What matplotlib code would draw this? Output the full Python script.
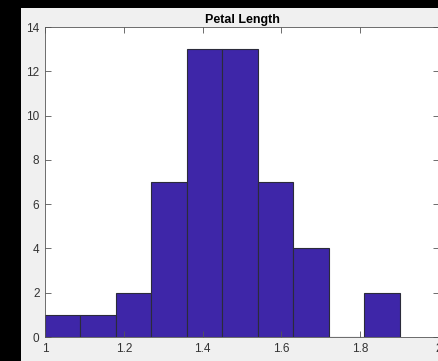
import numpy as np
import matplotlib.pyplot as plt
from matplotlib.patches import Rectangle

# histogram of petal length (setosa), 10 bins of 0.09
bin_edges = [1.0, 1.09, 1.18, 1.27, 1.36, 1.45, 1.54, 1.63, 1.72, 1.81, 1.9]
counts = [1, 1, 2, 7, 13, 13, 7, 4, 0, 2]
x_ticks = [1, 1.2, 1.4, 1.6, 1.8, 2]
x_labels = ['1', '1.2', '1.4', '1.6', '1.8', '2']
y_ticks = [0, 2, 4, 6, 8, 10, 12, 14]

plt.rcParams['font.family'] = ['Liberation Sans', 'DejaVu Sans']

W, H = 438, 361
fig = plt.figure(figsize=(W / 100, H / 100), dpi=100)
fig.patch.set_facecolor('black')
fig.patches.append(Rectangle((21 / W, 0), 1, 1 - 8 / H, transform=fig.transFigure,
                             facecolor='#f0f0f0', edgecolor='none', zorder=-10))

ax = fig.add_axes([45 / W, 24 / H, (439 - 45) / W, (337 - 27) / H])
ax.set_zorder(5)
ax.set_facecolor('white')

edges = np.array(bin_edges)
widths = np.diff(edges)
ax.bar(edges[:-1], counts, width=widths, align='edge',
       color='#3e26a8', edgecolor='#2b2b3a', linewidth=0.8)

ax.set_xlim(1, 2)
ax.set_ylim(0, 14)
ax.set_xticks(x_ticks)
ax.set_xticklabels(x_labels)
ax.set_yticks(y_ticks)
ax.tick_params(direction='in', length=4, width=0.6, colors='#555555',
               labelcolor='#333333', labelsize=8.5, top=True, right=True, pad=4)
for s in ax.spines.values():
    s.set_color('#555555')
    s.set_linewidth(0.6)

ax.set_title('Petal Length', fontsize=9, fontweight='bold', color='black', pad=3)

fig.savefig('out.png', dpi=100, facecolor=fig.get_facecolor())
